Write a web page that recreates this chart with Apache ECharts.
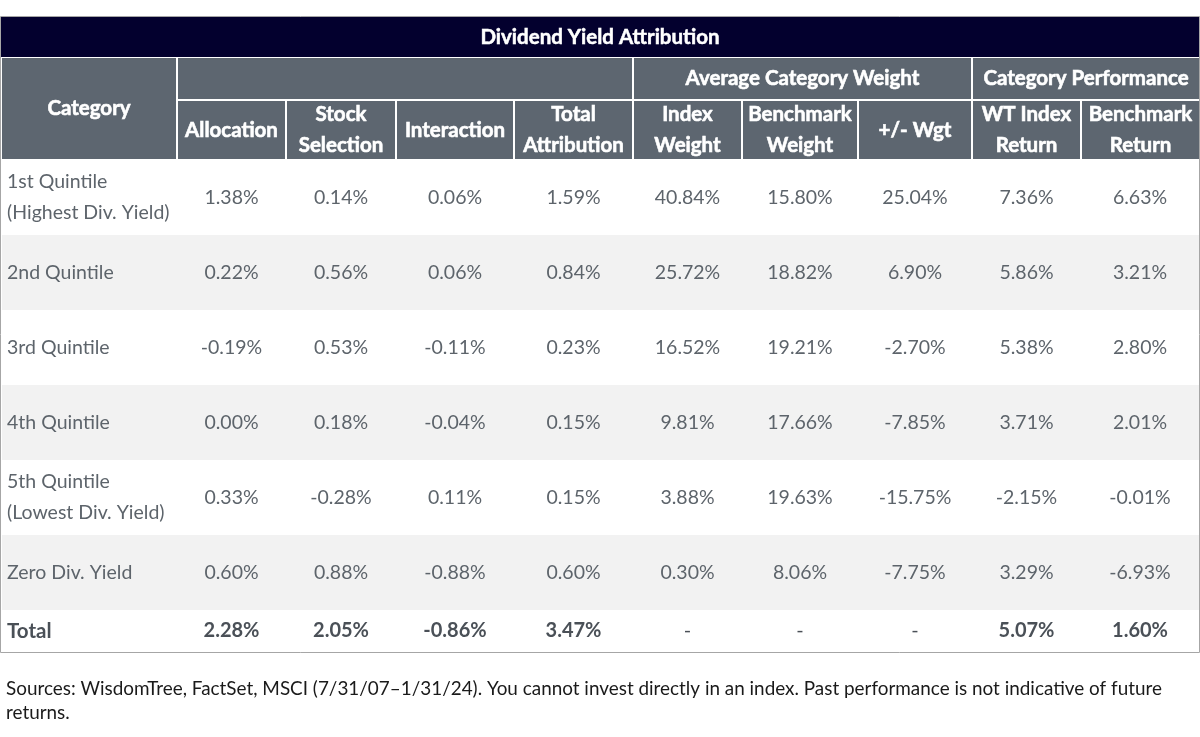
<!DOCTYPE html>
<html>
<head>
<meta charset="utf-8">
<script src="https://cdn.jsdelivr.net/npm/echarts@6/dist/echarts.min.js"></script>
<style>
html, body { margin: 0; padding: 0; background: #fff; }
#main { width: 1200px; height: 737px; }
</style>
</head>
<body>
<div id="main"></div>
<script>
// table content
var tableTitle = 'Dividend Yield Attribution';
var groupHeaders = ['', 'Average Category Weight', 'Category Performance'];
var columnHeaders = ['Allocation', 'Stock\nSelection', 'Interaction', 'Total\nAttribution',
	'Index\nWeight', 'Benchmark\nWeight', '+/- Wgt', 'WT Index\nReturn', 'Benchmark\nReturn'];
var categories = ['1st Quintile\n(Highest Div. Yield)', '2nd Quintile', '3rd Quintile',
	'4th Quintile', '5th Quintile\n(Lowest Div. Yield)', 'Zero Div. Yield'];
var allocation       = [1.38, 0.22, -0.19, 0.00, 0.33, 0.60];
var stockSelection   = [0.14, 0.56, 0.53, 0.18, -0.28, 0.88];
var interaction      = [0.06, 0.06, -0.11, -0.04, 0.11, -0.88];
var totalAttribution = [1.59, 0.84, 0.23, 0.15, 0.15, 0.60];
var indexWeight      = [40.84, 25.72, 16.52, 9.81, 3.88, 0.30];
var benchmarkWeight  = [15.80, 18.82, 19.21, 17.66, 19.63, 8.06];
var wgtDiff          = [25.04, 6.90, -2.70, -7.85, -15.75, -7.75];
var wtIndexReturn    = [7.36, 5.86, 5.38, 3.71, -2.15, 3.29];
var benchmarkReturn  = [6.63, 3.21, 2.80, 2.01, -0.01, -6.93];
var totalLabel = 'Total';
var totalRow = ['2.28%', '2.05%', '-0.86%', '3.47%', '-', '-', '-', '5.07%', '1.60%'];
var footnote = 'Sources: WisdomTree, FactSet, MSCI (7/31/07\u20131/31/24). You cannot invest directly in an index. Past performance is not indicative of future\nreturns.';

// layout (pixels)
var colEdges = [1, 177, 286, 396, 514, 633, 742, 858, 972, 1081, 1199];
var groupSpans = [[1, 5], [5, 8], [8, 10]];
var titleBand = [17, 57];
var groupBand = [58, 99];
var subBand = [101, 159];
var bodyEdges = [160, 235, 310, 385, 460, 535, 610, 652];

var NAVY = '#03002e', HEAD = '#5d6670', BAND = '#f2f2f2', TXT = '#5d646b', TOT = '#4a5057';
var FONT = 'Lato, "Source Sans Pro", sans-serif';

var columns = [allocation, stockSelection, interaction, totalAttribution,
	indexWeight, benchmarkWeight, wgtDiff, wtIndexReturn, benchmarkReturn];

// build the cell list
var cells = [];
function addCell(x0, x1, y0, y1, text, opt) {
	opt = opt || {};
	cells.push({x0: x0, x1: x1, y0: y0, y1: y1, text: text, fill: opt.fill,
		color: opt.color || TXT, bold: !!opt.bold, size: opt.size || 19.5,
		align: opt.align || 'center', heavy: opt.heavy || 0});
}

var headOpt = {fill: HEAD, color: '#fff', bold: true, size: 20.5, heavy: 0.6};
addCell(colEdges[0], colEdges[10], titleBand[0], titleBand[1], tableTitle,
	{fill: NAVY, color: '#fff', bold: true, size: 20.5, heavy: 0.5});
addCell(colEdges[0] + 1, colEdges[1] - 1, groupBand[0], subBand[1], 'Category', headOpt);
for (var g = 0; g < groupSpans.length; g++) {
	var gs = groupSpans[g];
	addCell(colEdges[gs[0]] + 1, colEdges[gs[1]] - (gs[1] == 10 ? 0 : 1), groupBand[0], groupBand[1],
		groupHeaders[g], headOpt);
}
for (var c = 0; c < columnHeaders.length; c++) {
	addCell(colEdges[c + 1] + 1, colEdges[c + 2] - (c == columnHeaders.length - 1 ? 0 : 1), subBand[0], subBand[1],
		columnHeaders[c], headOpt);
}
for (var r = 0; r < categories.length; r++) {
	var fill = r % 2 == 1 ? BAND : '#ffffff';
	var y0 = bodyEdges[r], y1 = bodyEdges[r + 1];
	addCell(colEdges[0] + 1, colEdges[1], y0, y1, categories[r], {fill: fill, align: 'left'});
	for (var k = 0; k < columns.length; k++) {
		addCell(colEdges[k + 1], colEdges[k + 2], y0, y1, columns[k][r].toFixed(2) + '%', {fill: fill});
	}
}
var ty0 = bodyEdges[categories.length], ty1 = bodyEdges[categories.length + 1];
addCell(colEdges[0] + 1, colEdges[1], ty0, ty1, totalLabel, {fill: '#fff', align: 'left', bold: true, color: TOT, size: 20.5});
for (var t = 0; t < totalRow.length; t++) {
	addCell(colEdges[t + 1], colEdges[t + 2], ty0, ty1, totalRow[t], {fill: '#fff', bold: totalRow[t] != '-', color: TOT, size: 20});
}

function renderCell(params, api) {
	var cell = cells[params.dataIndex];
	var p0 = api.coord([cell.x0, cell.y0]);
	var p1 = api.coord([cell.x1, cell.y1]);
	var children = [];
	if (cell.fill) {
		children.push({type: 'rect', shape: {x: p0[0], y: p0[1], width: p1[0] - p0[0], height: p1[1] - p0[1]},
			style: {fill: cell.fill}});
	}
	if (cell.text) {
		var style = {text: cell.text, fill: cell.color, align: cell.align, verticalAlign: 'middle',
			font: (cell.bold ? 'bold ' : '') + cell.size + 'px ' + FONT, lineHeight: 31};
		if (cell.heavy) {
			style.stroke = cell.color;
			style.lineWidth = cell.heavy;
		}
		children.push({type: 'text',
			x: cell.align == 'left' ? p0[0] + 5 : (p0[0] + p1[0]) / 2,
			y: (p0[1] + p1[1]) / 2,
			style: style});
	}
	return {type: 'group', children: children};
}

var chart = echarts.init(document.getElementById('main'));
chart.setOption({
	animation: false,
	grid: {left: 0, right: 0, top: 0, bottom: 0},
	xAxis: {type: 'value', min: 0, max: 1200, show: false},
	yAxis: {type: 'value', min: 0, max: 737, inverse: true, show: false},
	series: [{
		type: 'custom',
		silent: true,
		renderItem: renderCell,
		data: cells.map(function (cell) { return [cell.x0, cell.y0]; }),
		clip: false
	}],
	graphic: [
		{type: 'rect', shape: {x: 0.5, y: 16.5, width: 1199, height: 636}, style: {fill: 'none', stroke: '#a6a6a6', lineWidth: 1}, z: 100},
		{type: 'text', left: 6, top: 677, style: {text: footnote, fill: '#1a1a1a', font: '18.9px ' + FONT, lineHeight: 24}}
	]
});
</script>
</body>
</html>
